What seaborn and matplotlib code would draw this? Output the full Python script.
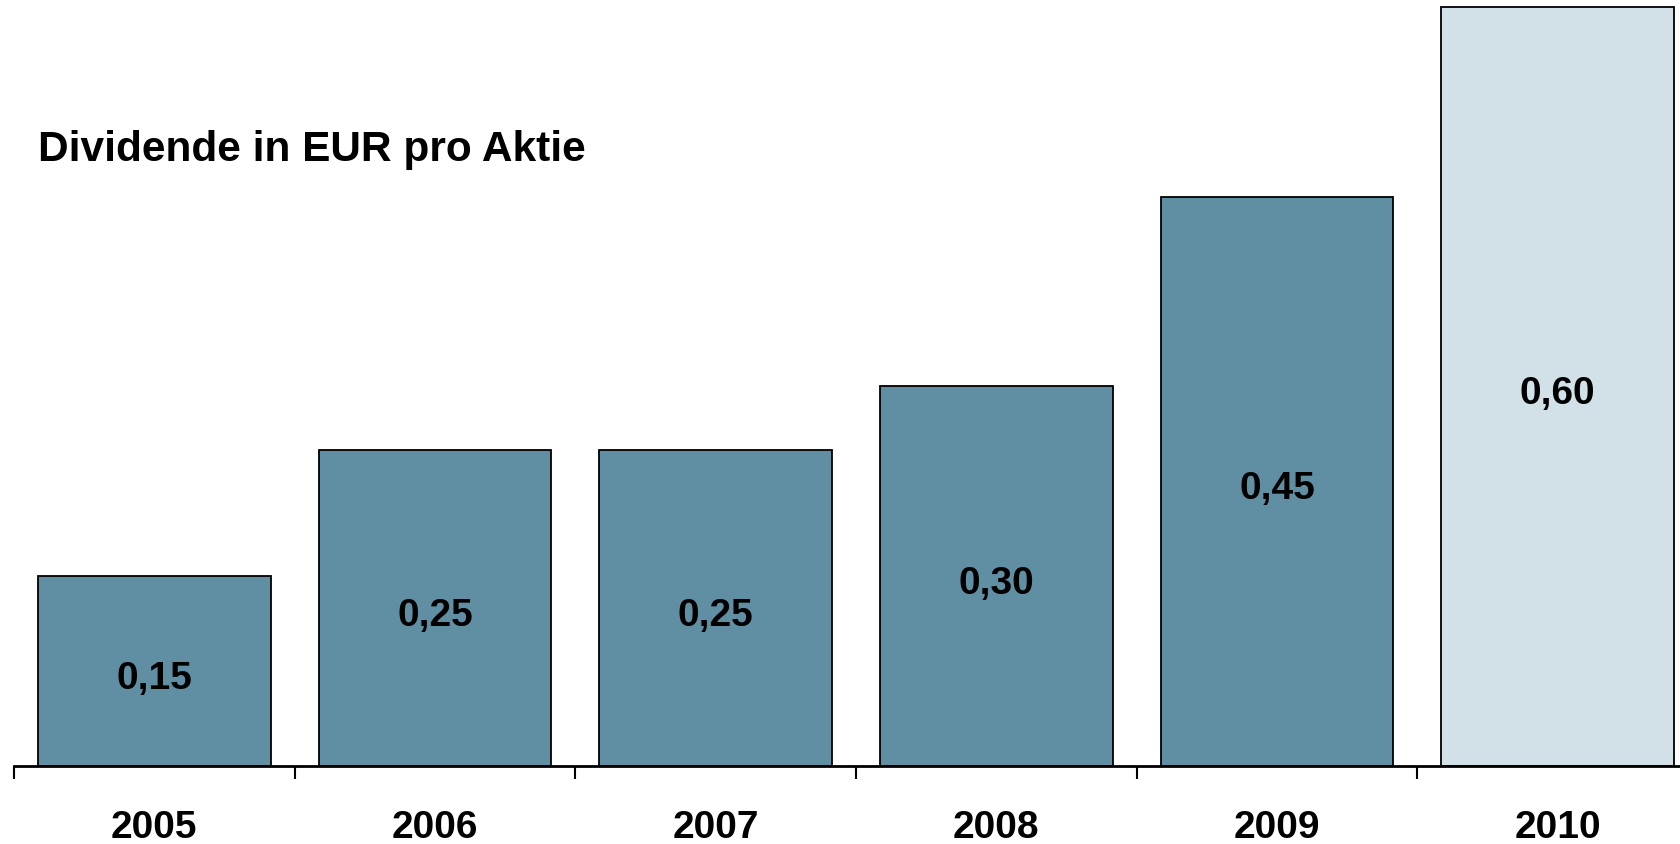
import matplotlib
matplotlib.use("Agg")
import matplotlib.pyplot as plt
import seaborn as sns
import pandas as pd
from matplotlib.ticker import FixedLocator

years = ["2005", "2006", "2007", "2008", "2009", "2010"]
dividends = [0.15, 0.25, 0.25, 0.30, 0.45, 0.60]
value_labels = ["0,15", "0,25", "0,25", "0,30", "0,45", "0,60"]
bar_colors = ["#608EA3", "#608EA3", "#608EA3", "#608EA3", "#608EA3", "#D2E0E7"]
title = "Dividende in EUR pro Aktie"

sns.set_theme(style="white")
plt.rcParams["font.family"] = ["Liberation Sans", "DejaVu Sans"]
plt.rcParams["text.color"] = "black"
plt.rcParams["xtick.color"] = "black"

df = pd.DataFrame({"year": years, "value": dividends})

fig = plt.figure(figsize=(16.81, 8.45), dpi=100)
ax = fig.add_axes([14 / 1681, (845 - 767) / 845, (1698 - 14) / 1681, 767 / 845])

sns.barplot(data=df, x="year", y="value", hue="year", palette=bar_colors,
            width=0.83, edgecolor="black", linewidth=1.3, saturation=1,
            legend=False, ax=ax)

ax.set_xlim(-0.5, 5.5)
ax.set_ylim(0, 0.6063)

for sp in ["top", "right", "left"]:
    ax.spines[sp].set_visible(False)
ax.spines["bottom"].set_linewidth(2)
ax.spines["bottom"].set_color("black")

ax.set_yticks([])
ax.set_ylabel("")
ax.set_xlabel("")
ax.set_xticks(range(len(years)))
ax.set_xticklabels(years, fontsize=28, fontweight="bold", color="black")
ax.tick_params(axis="x", which="major", length=0, pad=31, labelcolor="black")
ax.xaxis.set_minor_locator(FixedLocator([i - 0.5 for i in range(len(years) + 1)]))
ax.tick_params(axis="x", which="minor", length=9, width=1.5, color="black",
               direction="out", bottom=True)

for i, (v, lab) in enumerate(zip(dividends, value_labels)):
    ax.annotate(lab, xy=(i, v / 2), xytext=(0, -5), textcoords="offset points",
                ha="center", va="center", fontsize=28,
                fontweight="bold", color="black")

fig.text(38 / 1681, 1 - 150 / 845, title, ha="left", va="center",
         fontsize=30.5, fontweight="bold", color="black")

fig.savefig("out.png", dpi=100, facecolor="white")
